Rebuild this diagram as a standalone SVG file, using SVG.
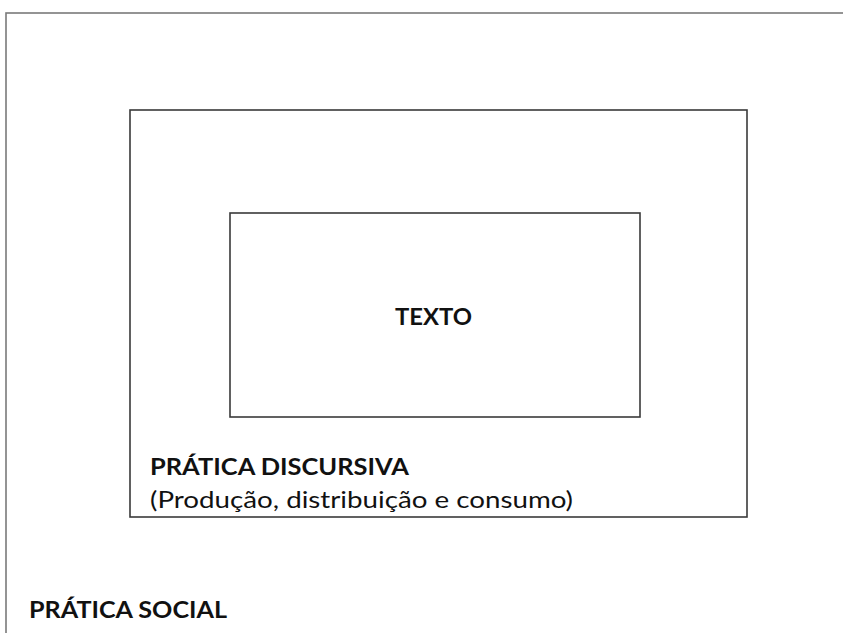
<svg xmlns="http://www.w3.org/2000/svg" width="843" height="633" viewBox="0 0 843 633">
<style>
.box{fill:none;stroke:#3a3a3a;stroke-width:1.6}
.outer{fill:none;stroke:#7a7a7a;stroke-width:1.6}
.b{font-family:Lato,"Open Sans","Liberation Sans",sans-serif;font-weight:bold;font-size:22.5px;fill:#111}
.r{font-family:Lato,"Open Sans","Liberation Sans",sans-serif;font-size:22.5px;fill:#111}
</style>
<rect width="843" height="633" fill="#fff"/>
<g id="pratica-social">
<rect class="outer" x="6" y="13" width="860" height="660"/>
<text class="b" x="29" y="618" textLength="198" lengthAdjust="spacingAndGlyphs">PRÁTICA SOCIAL</text>
</g>
<g id="pratica-discursiva">
<rect class="box" x="130" y="110" width="617" height="407"/>
<text class="b" x="150" y="475" textLength="259" lengthAdjust="spacingAndGlyphs">PRÁTICA DISCURSIVA</text>
<text class="r" x="150" y="508" textLength="423" lengthAdjust="spacingAndGlyphs">(Produção, distribuição e consumo)</text>
</g>
<g id="texto">
<rect class="box" x="230" y="213" width="410" height="204"/>
<text class="b" x="395" y="325" textLength="77" lengthAdjust="spacingAndGlyphs">TEXTO</text>
</g>
<g id="connectors"></g>
</svg>
